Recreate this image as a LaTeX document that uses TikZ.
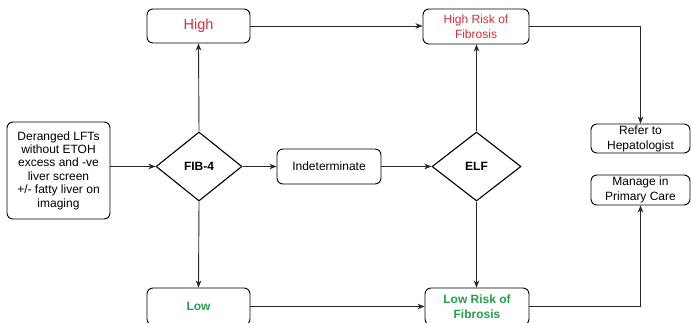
\documentclass[tikz,border=0pt]{standalone}
\usepackage{fontspec}
\setmainfont{Liberation Sans}
\usetikzlibrary{shapes.geometric,arrows.meta}
\definecolor{riskred}{RGB}{214,48,58}
\definecolor{riskgreen}{RGB}{36,160,72}
\definecolor{linegray}{RGB}{40,40,40}
\begin{document}
\begin{tikzpicture}[x=1pt,y=-1pt,
  box/.style={draw=black,line width=0.9pt,rounded corners=6pt,align=center,
    inner sep=1pt,font=\fontsize{12}{14.5}\selectfont},
  decision/.style={draw=black,line width=1.1pt,diamond,inner sep=0pt,
    font=\bfseries\fontsize{12}{14}\selectfont},
  flow/.style={draw=linegray,line width=0.9pt,-{Stealth[length=7pt,width=5.5pt,inset=2pt]}}
]
\useasboundingbox (0,0) rectangle (691,322);

% boxes
\node[box,minimum width=103pt,minimum height=97pt,font=\fontsize{12}{13.4}\selectfont]
  (start) at (58.5,170.5) {Deranged LFTs\\without ETOH\\excess and -ve\\liver screen\\+/- fatty liver on\\imaging};
\node[box,minimum width=103pt,minimum height=34pt,text=riskred,font=\fontsize{14.5}{16}\selectfont]
  (high) at (198.5,26) {High};
\node[box,minimum width=103pt,minimum height=37pt,text=riskgreen,font=\bfseries\fontsize{12}{14}\selectfont]
  (low) at (198.5,306.5) {Low};
\node[box,minimum width=106pt,minimum height=35pt,text=riskred,font=\fontsize{12}{15}\selectfont]
  (highrisk) at (476,26.5) {High Risk of\\Fibrosis};
\node[box,minimum width=104pt,minimum height=37pt,text=riskgreen,font=\bfseries\fontsize{12}{15.5}\selectfont]
  (lowrisk) at (477,306.5) {Low Risk of\\Fibrosis};
\node[box,minimum width=104pt,minimum height=35pt]
  (indet) at (329,166.5) {Indeterminate};
\node[box,minimum width=99pt,minimum height=29pt,font=\fontsize{12}{15}\selectfont]
  (refer) at (640.5,138.5) {Refer to\\Hepatologist};
\node[box,minimum width=99pt,minimum height=30pt,font=\fontsize{12}{15}\selectfont]
  (manage) at (640.5,190) {Manage in\\Primary Care};

% decisions
\node[decision,minimum width=86pt,minimum height=69pt] (fib) at (199,166.5) {FIB-4};
\node[decision,minimum width=89pt,minimum height=69pt] (elf) at (476.5,166.5) {ELF};

% connectors
\draw[flow] (start.east |- fib.west) -- (fib.west);
\draw[flow] (fib.north) -- (high.south);
\draw[flow] (fib.south) -- (low.north);
\draw[flow] (fib.east) -- (indet.west);
\draw[flow] (indet.east) -- (elf.west);
\draw[flow] (elf.north) -- (elf.north |- highrisk.south);
\draw[flow] (elf.south) -- (elf.south |- lowrisk.north);
\draw[flow] (high.east) -- (high.east -| highrisk.west);
\draw[flow] (low.east) -- (low.east -| lowrisk.west);
\draw[flow] (highrisk.east) -| (refer.north);
\draw[flow] (lowrisk.east) -| (manage.south);
\end{tikzpicture}
\end{document}
